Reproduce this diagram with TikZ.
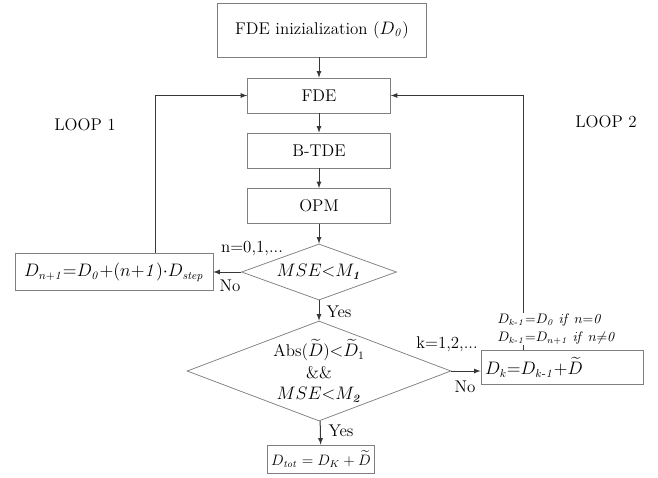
\documentclass[tikz,border=0pt]{standalone}
\usepackage{amssymb}
\usepackage{amsmath}
\usepackage{tikz}
\usetikzlibrary{shapes.geometric}
\usetikzlibrary{positioning}
\definecolor{boxgray}{RGB}{128,128,128}
\definecolor{linegray}{RGB}{55,55,55}

\begin{document}
\begin{tikzpicture}
    [
    x=0.028cm, y=-0.028cm,
    font=\fontsize{13.5}{16}\selectfont,
    block/.style={rectangle,draw=boxgray,line width=0.6pt,inner sep=2pt},
    test/.style={diamond,draw=boxgray,line width=0.6pt,inner sep=0pt,align=center},
    flow/.style={-latex,draw=linegray,line width=0.8pt},
    note/.style={inner sep=1pt},
    ]
    \useasboundingbox (0,0) rectangle (658,477);
    \node (init) at (322,30) [block, minimum width=5.85cm, minimum height=1.51cm] {FDE inizialization ($D_{\mathit{0}}$)};
    \node (fde) at (319,95.5) [block, minimum width=4cm, minimum height=0.98cm] {FDE};
    \node (btde) at (319,150.5) [block, minimum width=4cm, minimum height=0.98cm] {B-TDE};
    \node (opm) at (319,206) [block, minimum width=4cm, minimum height=0.98cm] {OPM};
    \node (dec1) at (319,272) [test, shape aspect=2.77, minimum width=4.34cm, minimum height=1.57cm] {$MSE{<}M_{\boldsymbol{\mathit{1}}}$};
    \node (dec2) at (319,371) [test, shape aspect=2.64, minimum width=7.39cm, minimum height=2.8cm, font=\fontsize{13.5}{17}\selectfont] {Abs($\widetilde{D}$)${<}\widetilde{D}_1$\\\&\&\\$MSE{<}M_{\boldsymbol{\mathit{2}}}$};
    \node (upd1) at (114,272) [block, minimum width=5.54cm, minimum height=1.04cm] {$D_{n+\mathit{1}}{=}D_{\mathit{0}}{+}(n{+}\mathit{1}){\cdot}D_{\mathit{step}}$};
    \node (updk) at (562,367) [block, minimum height=0.95cm, text width=4.3cm, inner xsep=0.12cm, align=left] {$D_k{=}D_{k\text{-}\mathit{1}}{+}\widetilde{D}$};
    \node (dtot) at (321,459) [block, minimum width=3cm, minimum height=0.78cm, inner xsep=1pt, font=\fontsize{12}{14}\selectfont] {$D_{\mathit{tot}} = D_K + \widetilde{D}$};

    \node (loop1) at (85,125) [note] {LOOP 1};
    \node (loop2) at (606,122) [note] {LOOP 2};
    \node (nlab) at (252,248) [note] {n=0,1,...};
    \node (klab) at (447,344) [note] {k=1,2,...};
    \node (no1) at (230,286) [note] {No};
    \node (yes1) at (339,312) [note] {Yes};
    \node (no2) at (465,387) [note] {No};
    \node (yes2) at (341,431) [note] {Yes};

    \coordinate (l1) at (155,0);
    \coordinate (l2) at (523,0);
    \draw [flow] (init.south -| fde.north) to (fde.north);
    \draw [flow] (fde) to (btde);
    \draw [flow] (btde) to (opm);
    \draw [flow] (opm) to (dec1);
    \draw [flow] (dec1) to (dec2);
    \draw [flow] (dec2) to (dtot);
    \draw [flow] (dec1.west) to (upd1.east);
    \draw [flow] (dec2.east) to (dec2.east -| updk.west);
    \draw [flow] (upd1.north -| l1) |- (fde.west);
    \draw [flow] (updk.north -| l2) |- (fde.east);

    \node (cond) at (496,329) [note, anchor=west, fill=white, align=left, font=\fontsize{10.5}{14}\selectfont] {$D_{k\text{-}\mathit{1}}{=}D_{\mathit{0}}\ \mathit{if}\ n{=}\mathit{0}$\\$D_{k\text{-}\mathit{1}}{=}D_{n+\mathit{1}}\ \mathit{if}\ n{\neq}\mathit{0}$};
  \end{tikzpicture}
\end{document}
